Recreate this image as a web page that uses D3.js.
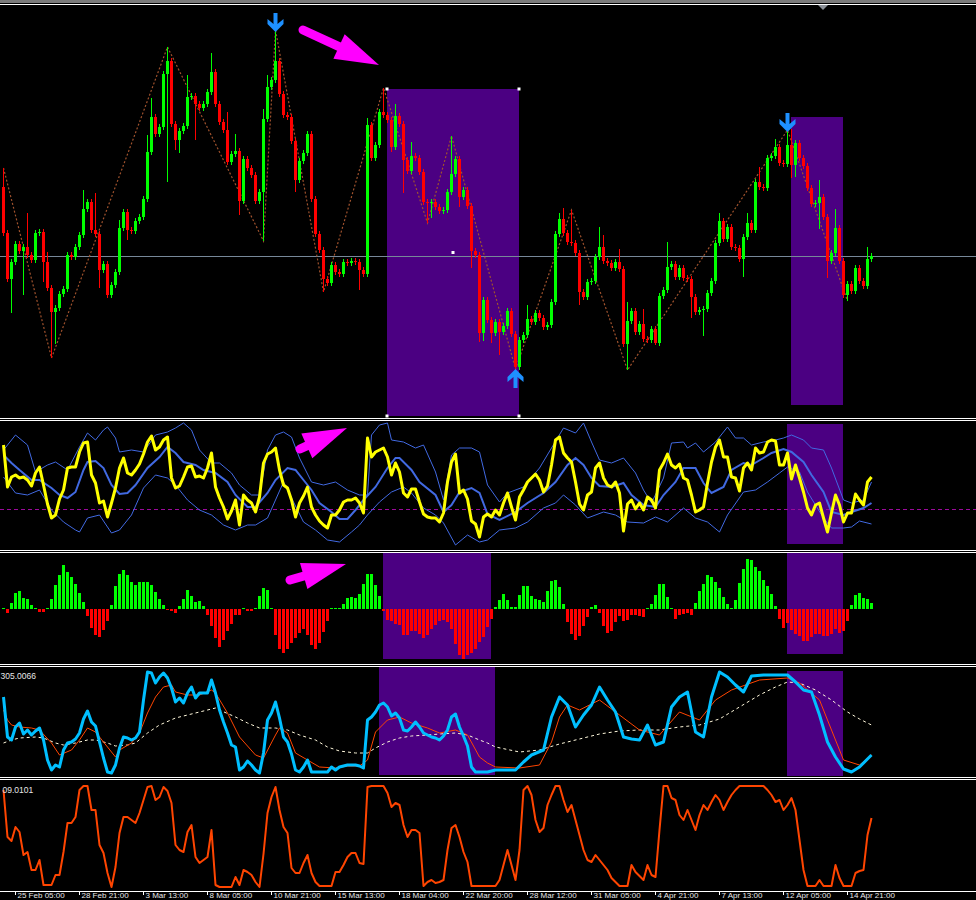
<!DOCTYPE html>
<html><head><meta charset="utf-8">
<script src="https://cdn.jsdelivr.net/npm/d3@7"></script>
<style>html,body{margin:0;padding:0;background:#000;overflow:hidden}</style>
</head><body>
<svg id="chart" width="976" height="900"></svg>
<script>
// ---------- DATA ----------
const tickIdx = [3,19,35,51,67,83,99,115,131,147,163,179,195,211];
const tickLabels = ["25 Feb 05:00","28 Feb 21:00","3 Mar 13:00","8 Mar 05:00","10 Mar 21:00","15 Mar 13:00","18 Mar 04:00","22 Mar 20:00","28 Mar 12:00","31 Mar 05:00","4 Apr 21:00","7 Apr 13:00","12 Apr 05:00","14 Apr 21:00"];

const firstOpen = 233;
const closes = [
187,141,158,176,169,173,165,160,187,188,
158,132,108,112,126,131,165,163,173,185,
211,218,190,186,150,156,125,135,148,192,
208,190,189,199,203,221,268,303,286,293,
346,359,296,280,289,294,323,324,316,312,
316,328,348,316,298,290,258,266,269,219,
261,252,245,219,228,301,333,340,359,326,
305,303,279,240,259,267,286,221,186,170,
141,137,155,148,146,158,157,159,158,150,
146,295,262,275,308,305,300,273,304,296,
260,249,264,262,248,218,217,218,213,209,
210,228,246,261,223,230,214,169,165,87,
120,100,87,98,88,94,109,86,53,80,
85,101,98,107,102,93,95,118,186,201,
187,178,177,167,128,123,138,139,163,173,
159,157,152,158,151,76,99,109,88,96,
81,80,91,77,124,130,153,156,143,152,
142,141,123,108,110,111,127,139,177,199,
181,193,173,172,161,183,197,190,238,233,
232,262,264,273,257,256,275,255,277,262,
254,232,216,217,223,203,159,167,192,159,
125,136,129,152,139,134,161,164];
const defaultWick = 3;
const highWicks = [[0,19],[6,34],[11,10],[20,19],[23,37],[29,8],[36,17],[37,19],[41,14],[46,22],[52,19],[56,18],[58,17],[65,10],[66,12],[68,31],[91,7],[95,24],[98,12],[102,14],[112,38],[131,14],[139,6],[140,11],[142,32],[149,20],[150,12],[154,13],[156,19],[160,15],[166,25],[179,8],[186,10],[189,15],[193,8],[196,15],[197,16],[204,17],[208,19],[216,12]];
const lowWicks = [[2,34],[5,44],[10,20],[12,46],[13,32],[24,18],[31,10],[41,108],[43,10],[44,13],[48,36],[59,14],[65,49],[73,12],[80,13],[89,20],[97,5],[100,33],[106,20],[107,15],[114,10],[117,17],[119,9],[120,8],[122,10],[124,23],[128,2],[144,13],[155,3],[156,26],[163,2],[172,21],[175,26],[185,18],[197,13],[198,12],[204,26],[206,17],[211,6]];
const zigzag = [[0,252],[12,62],[41,373],[65,179],[68,390],[80,128],[95,332],[106,197],[112,284],[128,51],[142,210],[156,50],[196,290],[211,119]];
const arrowsDown = [68,196];
const arrowsUp = [128];
const mainZones = [[96,129,331,4],[197,210,303,15]];

const oscYellow = [
105,63,73,75,72,73,70,64,77,83,
65,46,32,35,51,60,82,83,83,98,
107,108,75,67,47,49,33,47,62,82,
92,77,75,80,86,96,108,114,100,103,
110,113,72,62,64,73,83,84,73,74,
72,82,97,63,52,43,31,39,50,25,
55,50,47,38,53,87,96,98,102,80,
65,62,50,33,47,54,63,43,35,29,
25,22,35,35,40,48,50,50,52,47,
37,112,93,98,100,102,93,75,87,78,
57,53,61,61,48,36,33,32,32,28,
37,68,88,96,57,60,51,29,26,13,
33,36,33,40,35,47,57,43,30,53,
60,68,72,76,70,58,64,85,110,113,
97,92,88,68,46,40,55,58,82,87,
72,65,63,68,57,19,46,50,41,47,
40,53,50,42,80,87,96,85,82,86,
72,70,55,38,40,43,67,88,103,110,
93,93,73,72,59,82,87,80,102,97,
98,108,110,109,85,85,97,71,85,72,
58,42,35,45,47,32,18,37,55,45,
28,37,37,56,50,45,68,73];
const bandMid = [[0,95],[2,87],[4,80],[7,70],[9,70],[12,62],[14,55],[16,52],[18,58],[20,80],[21,88],[23,89],[25,82],[27,65],[29,56],[31,57],[33,65],[36,82],[39,93],[41,103],[43,97],[45,88],[48,85],[50,80],[53,77],[56,68],[58,55],[61,43],[63,43],[66,57],[68,70],[71,82],[73,80],[75,70],[77,60],[79,47],[82,38],[84,31],[86,31],[88,40],[90,50],[93,63],[96,82],[98,92],[99,92],[102,80],[104,68],[108,55],[110,38],[112,45],[114,58],[117,62],[119,57],[121,36],[124,30],[128,38],[131,47],[135,57],[138,68],[141,85],[143,92],[145,85],[147,72],[149,64],[152,63],[155,67],[157,55],[160,45],[163,43],[165,55],[168,68],[170,82],[173,82],[175,67],[177,57],[180,63],[182,80],[185,87],[187,85],[190,92],[192,97],[195,101],[197,98],[200,88],[202,75],[205,58],[207,38],[210,35],[212,38],[215,42],[217,47]];
const bandUp = [[0,100],[3,115],[6,105],[8,78],[11,85],[13,88],[16,80],[19,103],[21,117],[23,110],[25,120],[26,123],[28,112],[29,98],[32,100],[35,98],[38,115],[41,118],[43,122],[45,127],[47,120],[49,100],[52,87],[54,87],[57,77],[59,65],[62,55],[64,55],[66,100],[68,115],[70,118],[72,113],[74,92],[77,68],[80,65],[83,68],[86,60],[89,55],[91,55],[92,115],[94,125],[96,127],[97,110],[100,108],[103,102],[105,105],[108,78],[110,50],[112,95],[114,102],[117,102],[119,98],[121,65],[124,48],[126,57],[130,63],[134,82],[137,102],[140,122],[143,117],[145,127],[147,108],[149,90],[152,87],[155,92],[158,77],[160,60],[162,47],[165,72],[167,107],[170,108],[171,102],[173,107],[175,98],[178,108],[181,123],[183,112],[185,112],[187,105],[190,108],[193,110],[195,112],[197,115],[200,110],[202,102],[205,100],[207,82],[210,50],[212,47],[215,50],[217,68]];
const bandLow = [[0,73],[3,57],[6,55],[9,60],[12,40],[15,28],[18,20],[19,18],[21,32],[24,35],[27,17],[29,20],[32,35],[35,62],[38,75],[41,72],[43,65],[46,50],[49,40],[52,35],[55,25],[58,20],[61,25],[63,25],[66,32],[68,50],[70,68],[72,52],[75,28],[78,20],[81,10],[84,8],[87,18],[89,25],[91,35],[94,48],[97,58],[100,63],[102,57],[105,42],[108,35],[110,27],[113,5],[116,15],[119,8],[121,10],[124,20],[128,22],[131,28],[135,42],[138,47],[140,55],[143,45],[146,32],[150,38],[153,35],[156,28],[160,27],[163,33],[166,28],[170,42],[173,32],[176,28],[179,18],[181,35],[185,58],[188,60],[191,68],[194,77],[196,83],[199,78],[201,58],[205,32],[207,22],[210,22],[212,23],[214,29],[217,26]];
const oscLevel = 41;
const oscZones = [[196,210,126,6]];

const histValues = [
1,-4,6,16,18,11,10,4,1,-3,
-3,1,10,24,34,44,37,32,25,16,
7,-7,-19,-26,-28,-21,-12,4,23,35,
39,34,27,24,27,27,27,24,17,10,
4,-1,-2,-4,3,10,19,13,7,8,
3,-6,-17,-29,-38,-31,-22,-15,-6,-6,
1,-2,-2,1,13,21,19,1,-26,-40,
-44,-40,-34,-29,-24,-20,-26,-36,-40,-34,
-23,-12,1,1,1,5,11,12,11,15,
25,35,35,24,13,-2,-11,-12,-15,-16,
-26,-26,-22,-22,-25,-29,-26,-20,-16,-12,
-11,-13,-20,-35,-46,-50,-46,-44,-40,-33,
-28,-18,-10,2,9,15,9,2,2,14,
23,23,13,10,9,7,18,28,29,22,
5,-13,-25,-31,-27,-17,-8,2,4,-4,
-17,-24,-22,-13,-7,-12,-11,-6,-6,-7,
-8,1,5,14,25,25,12,1,-10,-6,
-5,-4,-6,6,18,25,34,32,27,21,
12,5,1,9,26,40,50,49,42,38,
29,23,15,3,-10,-19,-14,-21,-25,-27,
-32,-32,-28,-25,-25,-27,-27,-25,-20,-24,
-22,-12,4,14,16,11,10,6];
const histZones = [[95,122,56,-50],[196,210,56,-45]];

const stochMain = [[0,80],[1,40],[2,37],[3,50],[4,54],[5,43],[6,47],[7,42],[8,46],[9,49],[10,37],[11,17],[12,7],[13,12],[14,10],[15,27],[16,34],[17,35],[18,38],[19,44],[20,58],[21,66],[22,55],[23,51],[24,35],[25,19],[26,5],[27,4],[28,12],[29,29],[30,40],[31,39],[32,37],[33,39],[34,45],[35,77],[36,105],[37,104],[38,94],[39,100],[40,104],[41,99],[42,89],[43,75],[44,79],[45,74],[46,84],[47,90],[48,79],[49,84],[50,84],[51,84],[52,97],[53,84],[54,67],[55,55],[56,44],[57,32],[58,30],[59,7],[60,10],[61,16],[62,12],[63,7],[64,4],[65,24],[66,57],[67,64],[68,75],[69,59],[70,40],[71,35],[72,23],[73,7],[74,5],[75,10],[76,17],[77,5],[78,5],[79,5],[80,5],[81,5],[82,10],[83,7],[84,10],[85,11],[86,12],[87,12],[88,12],[89,11],[90,9],[91,57],[92,60],[93,65],[94,72],[95,74],[96,70],[97,61],[98,64],[99,59],[100,47],[101,46],[102,50],[103,55],[104,50],[105,44],[106,42],[107,40],[108,39],[109,37],[110,41],[111,47],[112,60],[113,63],[114,50],[115,41],[116,31],[117,10],[118,5],[119,5],[120,5],[121,5],[123,7],[125,7],[128,7],[130,15],[132,22],[135,27],[137,60],[139,80],[141,72],[143,50],[145,62],[147,72],[149,90],[151,77],[153,65],[155,40],[157,38],[159,37],[161,52],[163,32],[165,35],[167,70],[169,80],[171,85],[173,45],[175,40],[177,80],[179,105],[181,100],[183,92],[185,85],[187,101],[190,102],[193,102],[196,102],[198,95],[200,87],[202,85],[204,62],[206,35],[208,20],[210,8],[212,5],[214,10],[216,18],[217,22]];
const stochSignal = [[0,67],[1,57],[2,52],[4,50],[7,49],[9,47],[12,34],[14,22],[17,27],[19,37],[21,49],[23,45],[26,30],[28,20],[29,27],[32,34],[34,44],[36,64],[38,80],[40,90],[42,92],[43,85],[46,82],[49,82],[52,87],[53,84],[56,64],[59,40],[63,22],[65,19],[68,42],[69,49],[71,44],[73,24],[76,17],[79,10],[83,9],[86,11],[89,11],[91,17],[93,45],[96,57],[99,60],[102,54],[106,49],[109,44],[113,47],[116,42],[119,20],[121,14],[123,10],[129,9],[134,12],[137,35],[139,60],[141,72],[144,67],[149,77],[154,62],[159,47],[164,42],[169,65],[174,57],[178,77],[182,87],[189,97],[196,99],[199,94],[204,77],[208,37],[210,17],[214,12],[217,22]];
const stochSlow = [[0,34],[2,37],[4,39],[8,40],[10,39],[13,34],[15,32],[18,34],[21,37],[23,37],[26,34],[28,31],[31,32],[33,34],[36,44],[39,52],[43,59],[46,62],[49,65],[53,69],[54,67],[58,60],[61,54],[64,49],[68,49],[71,47],[74,42],[78,37],[81,30],[84,26],[88,24],[91,24],[93,29],[96,35],[99,39],[102,41],[106,42],[109,43],[113,44],[116,42],[119,37],[121,34],[123,30],[129,25],[134,27],[139,33],[144,38],[149,43],[154,46],[159,47],[164,47],[169,50],[174,52],[179,58],[184,70],[189,82],[193,90],[196,95],[199,94],[203,87],[207,77],[211,65],[214,58],[217,52]];
const stochZones = [[94,123,110,2],[196,210,106,1]];
const stochLabel = "305.0066";

const lastLine = [[0,100],[1,53],[2,49],[3,63],[4,58],[5,35],[6,38],[7,20],[8,20],[9,30],[10,5],[11,5],[12,5],[13,15],[14,15],[15,38],[16,67],[17,67],[18,73],[19,100],[20,104],[21,104],[22,80],[23,80],[24,45],[25,37],[26,17],[27,3],[28,23],[29,57],[30,73],[31,73],[32,70],[33,67],[34,77],[35,90],[36,103],[37,104],[38,90],[39,93],[40,103],[41,99],[42,87],[43,45],[44,40],[45,38],[46,58],[47,65],[48,33],[49,27],[50,30],[51,33],[52,60],[53,5],[54,3],[55,3],[56,3],[57,3],[58,13],[59,5],[60,20],[61,18],[62,15],[63,8],[64,3],[65,36],[66,77],[67,93],[68,103],[69,80],[70,63],[71,57],[72,22],[73,17],[74,17],[75,27],[76,35],[77,17],[78,8],[79,4],[80,4],[81,4],[82,4],[83,18],[84,18],[85,25],[86,33],[87,37],[88,37],[89,27],[90,26],[91,103],[92,104],[93,104],[94,104],[95,104],[96,97],[97,83],[98,87],[99,85],[100,65],[101,53],[102,60],[103,60],[104,57],[105,4],[106,8],[107,10],[108,7],[109,8],[110,10],[111,40],[112,62],[113,65],[114,53],[115,38],[116,28],[117,4],[118,4],[119,4],[120,4],[121,4],[122,4],[123,4],[124,10],[125,25],[126,40],[127,25],[128,10],[129,40],[130,100],[131,104],[132,95],[133,70],[134,58],[135,62],[136,85],[137,95],[138,104],[139,104],[140,90],[141,78],[142,85],[143,70],[144,55],[145,40],[146,30],[147,28],[148,35],[149,30],[150,25],[151,20],[152,12],[153,8],[154,4],[155,4],[156,4],[157,25],[158,18],[159,14],[160,10],[161,25],[162,15],[163,13],[164,60],[165,104],[166,104],[167,92],[168,90],[169,75],[170,70],[171,80],[172,70],[173,60],[174,75],[175,85],[176,80],[177,88],[178,95],[179,90],[180,80],[181,88],[182,95],[183,100],[184,104],[185,104],[186,104],[187,104],[188,104],[189,104],[190,104],[191,100],[192,95],[193,88],[194,90],[195,80],[196,85],[197,92],[198,80],[199,50],[200,20],[201,4],[202,4],[203,4],[204,10],[205,4],[206,4],[207,4],[208,25],[209,12],[210,4],[211,4],[212,4],[213,17],[214,19],[215,20],[216,55],[217,72]];
const lastLabel = "09.0101";

// annotation arrows: [fromIndex, fromValue, toIndex, toValue]
const noteMain = [75,390,94,355];
const noteOsc = [74.25,101,86,122];
const noteHist = [71.75,29,85.75,45];

// ---------- DRAW ----------
const W = 976;
const FONT = 'Liberation Sans, Arial, sans-serif';
const svg = d3.select('#chart');
svg.append('rect').attr('width',W).attr('height',900).attr('fill','#000');
const defs = svg.append('defs');
function clip(id,y0,y1){defs.append('clipPath').attr('id',id).append('rect').attr('x',0).attr('y',y0).attr('width',W).attr('height',y1-y0);}
clip('cMain',5,418); clip('c2',421,550); clip('c3',553,664); clip('c4',667,777); clip('c5',780,891);

const x = d3.scaleLinear().domain([0,217]).range([3,871]);
const yMain = d3.scaleLinear().domain([0,415]).range([420,5]);
const y2 = d3.scaleLinear().domain([0,128]).range([550,422]);
const y3 = d3.scaleLinear().domain([-56,56]).range([665,553]);
const y4 = d3.scaleLinear().domain([0,110]).range([777,667]);
const y5 = d3.scaleLinear().domain([0,110]).range([890,780]);

const PURPLE = '#4b0082';
function zones(g, list, ys){
  g.selectAll(null).data(list).enter().append('rect')
    .attr('x',d=>x(d[0])).attr('width',d=>x(d[1])-x(d[0]))
    .attr('y',d=>ys(d[2])).attr('height',d=>ys(d[3])-ys(d[2]))
    .attr('fill',PURPLE);
}
function lineOf(ys){return d3.line().x(d=>x(d[0])+0.5).y(d=>ys(d[1]));}

// top chrome
svg.append('rect').attr('x',0).attr('y',0).attr('width',W).attr('height',3).attr('fill','#7a7a7a');
svg.append('line').attr('x1',0).attr('x2',W).attr('y1',4.5).attr('y2',4.5).attr('stroke','#fff');
svg.append('path').attr('d','M818,5L828,5L823,10Z').attr('fill','#8a8f96');

// ----- main panel -----
const gMain = svg.append('g').attr('clip-path','url(#cMain)');
zones(gMain, mainZones, yMain);
const bidY = Math.round(yMain(closes[closes.length-1]))+0.5;
gMain.append('line').attr('x1',0).attr('x2',W).attr('y1',bidY).attr('y2',bidY).attr('stroke','#778899');
gMain.append('path').datum(zigzag).attr('d',lineOf(yMain)).attr('fill','none')
  .attr('stroke','#a0522d').attr('stroke-width',1.2).attr('stroke-dasharray','2,2');

const hw = new Map(highWicks), lw = new Map(lowWicks);
const candles = closes.map((c,i)=>{
  const o = i===0 ? firstOpen : closes[i-1];
  const hi = Math.max(o,c) + (hw.has(i)?hw.get(i):defaultWick);
  const lo = Math.min(o,c) - (lw.has(i)?lw.get(i):defaultWick);
  return {i,o,c,hi,lo,up:c>=o};
});
const cg = gMain.append('g');
cg.selectAll('line.w').data(candles).enter().append('line')
  .attr('x1',d=>x(d.i)+0.5).attr('x2',d=>x(d.i)+0.5)
  .attr('y1',d=>yMain(d.hi)).attr('y2',d=>yMain(d.lo))
  .attr('stroke',d=>d.up?'#00ff00':'#ff0000').attr('stroke-width',1);
cg.selectAll('rect.b').data(candles).enter().append('rect')
  .attr('x',d=>x(d.i)-1).attr('width',3)
  .attr('y',d=>yMain(Math.max(d.o,d.c)))
  .attr('height',d=>Math.max(1,yMain(Math.min(d.o,d.c))-yMain(Math.max(d.o,d.c))))
  .attr('fill',d=>d.up?'#00ff00':'#ff0000');

// selection markers on first zone
const z0 = mainZones[0];
const mk = [[z0[0],z0[2]],[z0[1],z0[2]],[z0[0],z0[3]],[z0[1],z0[3]],[(z0[0]+z0[1])/2,(z0[2]+z0[3])/2]];
svg.selectAll(null).data(mk).enter().append('rect')
  .attr('x',d=>x(d[0])-1.5).attr('y',d=>yMain(d[1])-1.5).attr('width',3).attr('height',3).attr('fill','#fff');

// blue signal arrows
function arrowPath(cx, tipY, down){
  const pts = [[0,0],[-8,8],[-8,13],[-2,8],[-2,19],[2,19],[2,8],[8,13],[8,8]];
  const dir = down ? -1 : 1;
  return 'M'+pts.map(p=>[cx+p[0], tipY+dir*p[1]].join(',')).join('L')+'Z';
}
arrowsDown.forEach(i=>{
  svg.append('path').attr('d',arrowPath(x(i)+0.5, yMain(candles[i].hi)+2, true)).attr('fill','#1e90ff');
});
arrowsUp.forEach(i=>{
  svg.append('path').attr('d',arrowPath(x(i)+0.5, yMain(candles[i].lo), false)).attr('fill','#1e90ff');
});

// magenta arrows
function magentaArrow(note, ys){
  const tx=x(note[0]), ty=ys(note[1]), px=x(note[2]), py=ys(note[3]);
  const L=Math.hypot(px-tx,py-ty), dx=(px-tx)/L, dy=(py-ty)/L, nx=-dy, ny=dx;
  const bx=px-dx*44, by=py-dy*44;
  svg.append('line').attr('x1',tx).attr('y1',ty).attr('x2',bx+dx*3).attr('y2',by+dy*3)
    .attr('stroke','#ff00ff').attr('stroke-width',9).attr('stroke-linecap','round');
  svg.append('path').attr('d',`M${px},${py}L${bx+nx*13.5},${by+ny*13.5}L${bx-nx*13.5},${by-ny*13.5}Z`).attr('fill','#ff00ff');
}

// ----- panel 2 -----
const g2 = svg.append('g').attr('clip-path','url(#c2)');
zones(g2, oscZones, y2);
const lvlY = Math.round(y2(oscLevel))+0.5;
g2.append('line').attr('x1',0).attr('x2',W).attr('y1',lvlY).attr('y2',lvlY)
  .attr('stroke','#9b0a9b').attr('stroke-dasharray','4,3');
g2.append('path').datum(bandUp).attr('d',lineOf(y2)).attr('fill','none').attr('stroke','#4169e1').attr('stroke-width',1);
g2.append('path').datum(bandLow).attr('d',lineOf(y2)).attr('fill','none').attr('stroke','#4169e1').attr('stroke-width',1);
g2.append('path').datum(bandMid).attr('d',lineOf(y2)).attr('fill','none').attr('stroke','#4169e1').attr('stroke-width',2);
g2.append('path').datum(oscYellow.map((v,i)=>[i,v])).attr('d',lineOf(y2)).attr('fill','none')
  .attr('stroke','#ffff00').attr('stroke-width',3).attr('stroke-linejoin','round');

// ----- panel 3 -----
const g3 = svg.append('g').attr('clip-path','url(#c3)');
zones(g3, histZones, y3);
g3.selectAll(null).data(histValues.map((v,i)=>({i,v}))).enter().append('rect')
  .attr('x',d=>x(d.i)-1).attr('width',3)
  .attr('y',d=>Math.min(y3(d.v),y3(0)))
  .attr('height',d=>Math.max(1,Math.abs(y3(d.v)-y3(0))))
  .attr('fill',d=>d.v>=0?'#00ff00':'#ff0000');

// ----- panel 4 -----
const g4 = svg.append('g').attr('clip-path','url(#c4)');
zones(g4, stochZones, y4);
g4.append('path').datum(stochSlow).attr('d',lineOf(y4)).attr('fill','none').attr('stroke','#fff8dc').attr('stroke-width',1).attr('stroke-dasharray','3,3');
g4.append('path').datum(stochSignal).attr('d',lineOf(y4)).attr('fill','none').attr('stroke','#ff4500').attr('stroke-width',1);
g4.append('path').datum(stochMain).attr('d',lineOf(y4)).attr('fill','none').attr('stroke','#00bfff').attr('stroke-width',3).attr('stroke-linejoin','round');
svg.append('text').attr('x',0.5).attr('y',679).text(stochLabel)
  .attr('fill','#e6e6e6').attr('font-family',FONT).attr('font-size',8.5);

// ----- panel 5 -----
const g5 = svg.append('g').attr('clip-path','url(#c5)');
g5.append('path').datum(lastLine).attr('d',lineOf(y5)).attr('fill','none').attr('stroke','#ff4500').attr('stroke-width',2).attr('stroke-linejoin','round');
svg.append('text').attr('x',2.5).attr('y',793).text(lastLabel)
  .attr('fill','#e6e6e6').attr('font-family',FONT).attr('font-size',8.5);

// magenta annotations on top
magentaArrow(noteMain, yMain);
magentaArrow(noteOsc, y2);
magentaArrow(noteHist, y3);

// separators
[418.5,420.5,550.5,552.5,664.5,666.5,777.5,779.5,891.5].forEach(yy=>{
  svg.append('line').attr('x1',0).attr('x2',W).attr('y1',yy).attr('y2',yy).attr('stroke','#fff').attr('stroke-width',1);
});

// time axis
const axis = d3.axisBottom(x).tickValues(tickIdx).tickFormat((d,k)=>tickLabels[k]).tickSizeInner(4).tickSizeOuter(0);
const ga = svg.append('g').attr('transform','translate(0,891)').call(axis);
ga.select('.domain').remove();
ga.selectAll('line').attr('stroke','#fff');
ga.selectAll('text').attr('fill','#e6e6e6').attr('text-anchor','start').attr('x',2).attr('y',6.5).attr('dy',0)
  .attr('font-family',FONT).attr('font-size',8);
</script>
</body></html>
